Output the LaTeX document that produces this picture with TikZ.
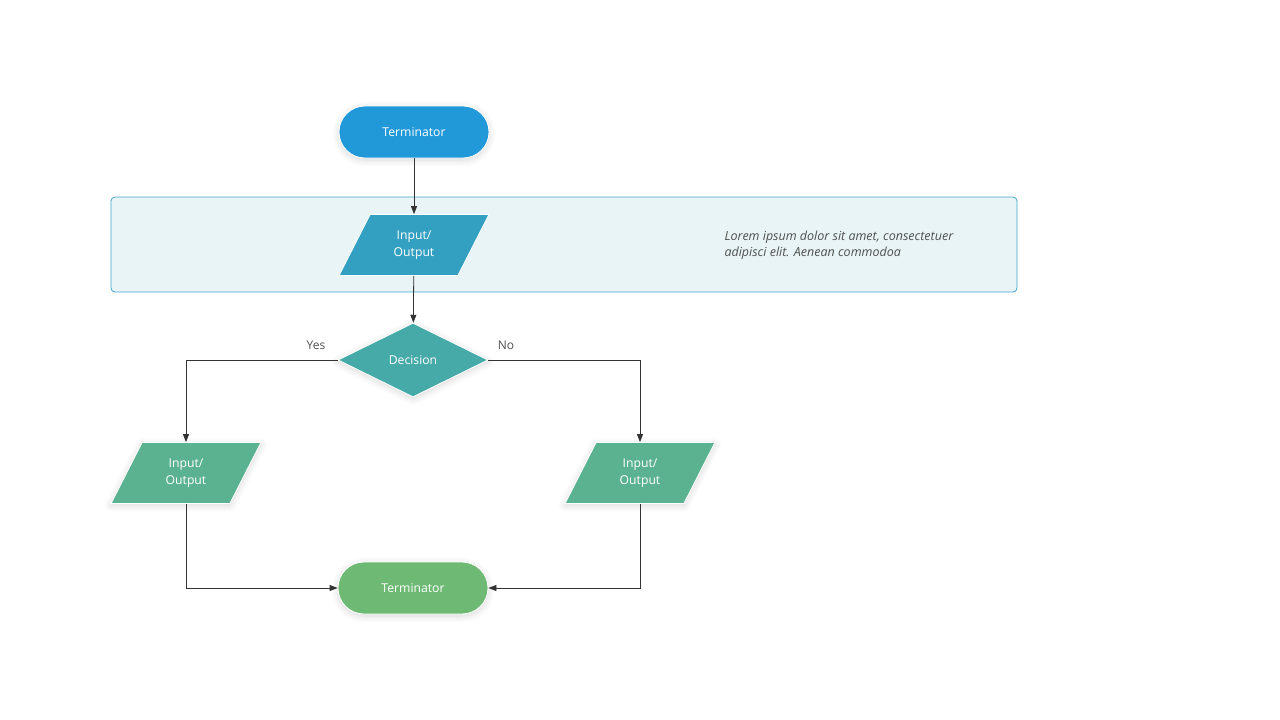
\documentclass[tikz,border=0pt]{standalone}
\usepackage{fontspec}
\setmainfont{Open Sans}
\usetikzlibrary{arrows.meta}
\usetikzlibrary{shapes.geometric}
\usetikzlibrary{shadows.blur}
\usetikzlibrary{positioning}

\definecolor{termblue}{RGB}{33,152,216}
\definecolor{ioblue}{RGB}{51,160,193}
\definecolor{decteal}{RGB}{69,170,168}
\definecolor{iogreen}{RGB}{91,178,144}
\definecolor{termgreen}{RGB}{110,185,116}
\definecolor{bandfill}{RGB}{232,244,246}
\definecolor{bandline}{RGB}{64,166,204}
\definecolor{linegray}{RGB}{51,51,51}
\definecolor{labelgray}{RGB}{80,80,80}

\tikzset{
  shapebase/.style={draw=white, line width=0.8pt, text=white, align=center,
    font=\fontsize{12.2}{16.5}\selectfont},
  soft/.style={blur shadow={shadow xshift=0pt, shadow yshift=-2pt,
      shadow blur steps=14, shadow blur radius=7pt,
      shadow blur extra rounding=0pt, shadow opacity=16}},
  terminator/.style={shapebase, soft, rectangle, rounded corners=26pt,
    minimum width=150pt, minimum height=52pt},
  iobox/.style={shapebase, trapezium, trapezium left angle=63,
    trapezium right angle=117,
    minimum width=150pt, minimum height=55pt, inner sep=0pt},
  decision/.style={shapebase, soft, diamond, minimum width=150pt,
    minimum height=74pt, inner sep=0pt},
  link/.style={draw=linegray, line width=0.8pt,
    -{Triangle[length=8pt,width=6pt]}},
  branch/.style={text=labelgray, font=\fontsize{12}{14}\selectfont},
}

\begin{document}
\begin{tikzpicture}[x=1pt,y=-1pt]
\useasboundingbox (0,0) rectangle (1280,720);

% band behind the first input
\draw[fill=bandfill, draw=bandline, line width=0.8pt, rounded corners=4pt]
(111,197) rectangle (1017,292);

\node[terminator, fill=termblue] (start) at (414,132) {Terminator};
\node[iobox, fill=ioblue] (inA) at (414,245) {Input/\\Output};
\node[decision, fill=decteal] (choice) at (413,360) {Decision};
\node[iobox, soft, fill=iogreen] (outYes) at (186,473) {Input/\\Output};
\node[iobox, soft, fill=iogreen] (outNo) at (640,473) {Input/\\Output};
\node[terminator, fill=termgreen] (stop) at (413,588) {Terminator};

\node[anchor=west, align=left, text=labelgray,
  font=\fontsize{12.5}{16}\selectfont\itshape] (note) at (721,245)
  {Lorem ipsum dolor sit amet, consectetuer\\adipisci elit. Aenean commodoa};

\node[branch] (yes) at (316,345) {Yes};
\node[branch] (no) at (506,345) {No};

\draw[link] (start) -- (inA);
\draw[link] (inA) -- (choice);
\draw[link] (choice.west) -| (outYes);
\draw[link] (choice.east) -| (outNo);
\draw[link] (outYes) |- (stop);
\draw[link] (outNo) |- (stop);

\end{tikzpicture}
\end{document}
